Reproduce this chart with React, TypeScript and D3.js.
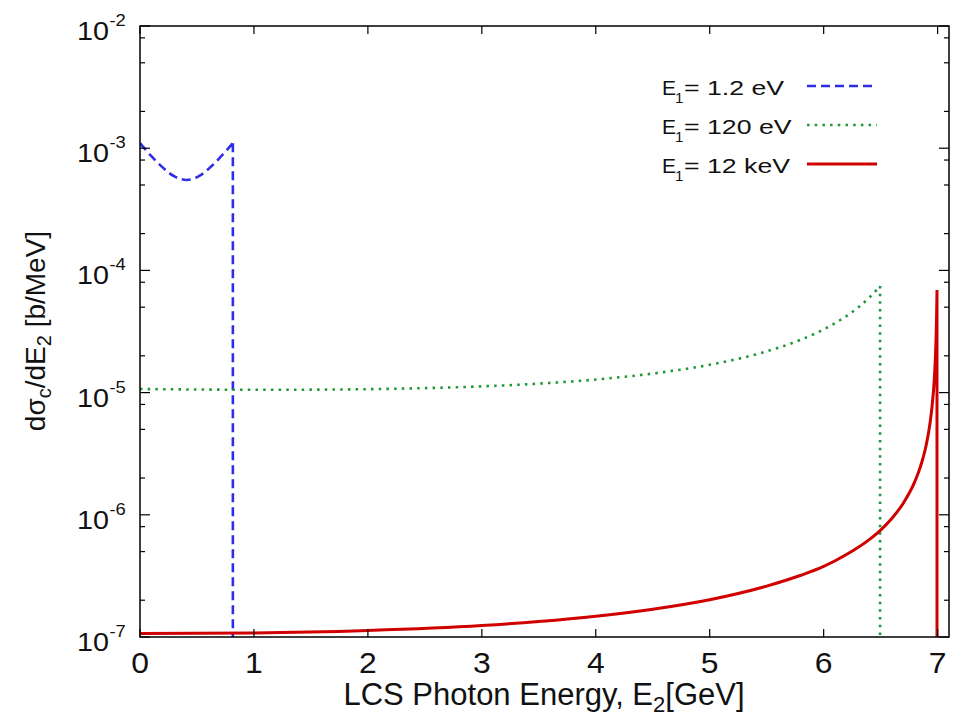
import React from "react";
import * as d3 from "d3";

// ---- data ----
const xTicks = [0, 1, 2, 3, 4, 5, 6, 7];
const yDecades = [-7, -6, -5, -4, -3, -2];
const minorMult = [2, 5, 8];

// E1 = 1.2 eV (dashed blue); last point = vertical drop at the cut-off
const blueX = [0, 0.05, 0.1, 0.153, 0.204, 0.255, 0.306, 0.357, 0.408, 0.459, 0.509, 0.56, 0.611, 0.662, 0.713, 0.764, 0.815, 0.815];
const blueY = [1.1e-3, 9.7e-4, 8.6e-4, 7.65e-4, 6.9e-4, 6.27e-4, 5.85e-4, 5.59e-4, 5.5e-4, 5.59e-4, 5.85e-4, 6.27e-4, 6.9e-4, 7.65e-4, 8.6e-4, 9.7e-4, 1.1e-3, 1e-8];

// E1 = 120 eV (dotted green)
const greenX = [0, 0.5, 1, 1.5, 2, 2.5, 3, 3.5, 4, 4.5, 5, 5.5, 5.8, 6.0, 6.1, 6.2, 6.3, 6.4, 6.45, 6.495, 6.495];
const greenY = [1.07e-5, 1.06e-5, 1.055e-5, 1.057e-5, 1.067e-5, 1.088e-5, 1.125e-5, 1.184e-5, 1.279e-5, 1.432e-5, 1.69e-5, 2.175e-5, 2.71e-5, 3.29e-5, 3.7e-5, 4.23e-5, 4.95e-5, 5.98e-5, 6.68e-5, 7.46e-5, 1e-8];

// E1 = 12 keV (solid red)
const redX = [0, 1, 2, 3, 3.5, 4, 4.5, 5, 5.5, 5.8, 6, 6.2, 6.4, 6.5, 6.6, 6.7, 6.8, 6.85, 6.9, 6.93, 6.95, 6.97, 6.98, 6.99, 6.993, 6.9946, 6.9946];
const redY = [1.07e-7, 1.08e-7, 1.13e-7, 1.24e-7, 1.34e-7, 1.48e-7, 1.69e-7, 2.02e-7, 2.61e-7, 3.2e-7, 3.78e-7, 4.73e-7, 6.27e-7, 7.5e-7, 9.37e-7, 1.25e-6, 1.87e-6, 2.49e-6, 3.73e-6, 5.34e-6, 7.5e-6, 1.245e-5, 1.87e-5, 3.74e-5, 5.35e-5, 6.9e-5, 1e-8];

const legendLabels = ["= 1.2 eV", "= 120 eV", "= 12 keV"];

const W = 965;
const H = 723;
const L = 140, R = 949, T = 26, B = 637;
const FONT = "'Liberation Sans', Arial, Helvetica, sans-serif";

export default function App() {
  const x = d3.scaleLinear().domain([0, 7.1]).range([L, R]);
  const y = d3.scaleLog().domain([1e-7, 1e-2]).range([B, T]);

  const line = d3
    .line<[number, number]>()
    .x((d) => x(d[0]))
    .y((d) => y(Math.max(d[1], 1e-8)))
    .curve(d3.curveMonotoneX);
  const straight = d3
    .line<[number, number]>()
    .x((d) => x(d[0]))
    .y((d) => y(Math.max(d[1], 1e-8)));

  const mk = (xs: number[], ys: number[]) => xs.map((v, i) => [v, ys[i]] as [number, number]);
  const pathFor = (xs: number[], ys: number[]) => {
    const pts = mk(xs, ys);
    const body = pts.slice(0, -1);
    const drop = pts.slice(-2);
    return (line(body) || "") + (straight(drop) || "");
  };

  const series = [
    { xs: blueX, ys: blueY, color: "#2e2ee6", width: 2.6, dash: "9,5" },
    { xs: greenX, ys: greenY, color: "#1f9838", width: 2.6, dash: "2.5,5.2" },
    { xs: redX, ys: redY, color: "#d10000", width: 3, dash: undefined },
  ];

  const minorTicks: number[] = [];
  yDecades.forEach((e) => {
    if (e < -2) minorMult.forEach((m) => minorTicks.push(m * Math.pow(10, e)));
  });

  const legendBase = [95, 134, 173];

  return (
    <svg width={W} height={H} style={{ display: "block", position: "absolute", left: 0, top: 0, background: "#fff" }}>
      <rect x={0} y={0} width={W} height={H} fill="#fff" />
      <defs>
        <clipPath id="plotclip">
          <rect x={L} y={T} width={R - L} height={B - T} />
        </clipPath>
      </defs>

      {/* curves */}
      <g clipPath="url(#plotclip)">
        {series.map((s, i) => (
          <path
            key={i}
            d={pathFor(s.xs, s.ys)}
            fill="none"
            stroke={s.color}
            strokeWidth={s.width}
            strokeDasharray={s.dash}
            strokeLinejoin="round"
          />
        ))}
      </g>

      {/* frame */}
      <rect x={L} y={T} width={R - L} height={B - T} fill="none" stroke="#000" strokeWidth={1.5} />

      {/* x ticks */}
      {xTicks.map((t) => (
        <g key={"xt" + t}>
          <line x1={x(t)} x2={x(t)} y1={B} y2={B - 8} stroke="#000" strokeWidth={1.2} />
          <line x1={x(t)} x2={x(t)} y1={T} y2={T + 8} stroke="#000" strokeWidth={1.2} />
          <text
            transform={`translate(${x(t)},673) scale(1.1,1)`}
            textAnchor="middle"
            fontFamily={FONT}
            fontSize={29}
            fill="#111"
          >
            {t}
          </text>
        </g>
      ))}

      {/* y major ticks and labels */}
      {yDecades.map((e) => {
        const v = Math.pow(10, e);
        const yy = y(v);
        return (
          <g key={"yt" + e}>
            <line x1={L} x2={L + 10} y1={yy} y2={yy} stroke="#000" strokeWidth={1.2} />
            <line x1={R} x2={R - 10} y1={yy} y2={yy} stroke="#000" strokeWidth={1.2} />
            <text
              transform={`translate(109,${yy + 14}) scale(1.15,1)`}
              textAnchor="end"
              fontFamily={FONT}
              fontSize={25}
              fill="#111"
            >
              10
            </text>
            <text
              transform={`translate(109.5,${yy}) scale(1.15,1)`}
              textAnchor="start"
              fontFamily={FONT}
              fontSize={16}
              fill="#111"
            >
              {String(e)}
            </text>
          </g>
        );
      })}
      {minorTicks.map((v, i) => (
        <g key={"mt" + i}>
          <line x1={L} x2={L + 5} y1={y(v)} y2={y(v)} stroke="#000" strokeWidth={1.2} />
          <line x1={R} x2={R - 5} y1={y(v)} y2={y(v)} stroke="#000" strokeWidth={1.2} />
        </g>
      ))}

      {/* x label */}
      <text x={544} y={705} textAnchor="middle" fontFamily={FONT} fontSize={31} fill="#111">
        LCS Photon Energy, E
        <tspan fontSize={22} dy={7}>2</tspan>
        <tspan dy={-7}>[GeV]</tspan>
      </text>

      {/* y label */}
      <text
        transform={`translate(45,331) rotate(-90)`}
        textAnchor="middle"
        fontFamily={FONT}
        fontSize={28}
        fill="#111"
      >
        dσ
        <tspan fontSize={20} dy={6}>c</tspan>
        <tspan dy={-6}>/dE</tspan>
        <tspan fontSize={20} dy={6}>2</tspan>
        <tspan dy={-6}> [b/MeV]</tspan>
      </text>

      {/* legend */}
      {series.map((s, i) => {
        const base = legendBase[i];
        return (
          <g key={"lg" + i}>
            <text x={662} y={base} fontFamily={FONT} fontSize={21} fill="#111">E</text>
            <text x={675} y={base + 8} fontFamily={FONT} fontSize={15} fill="#111">1</text>
            <text
              transform={`translate(684,${base}) scale(1.27,1)`}
              fontFamily={FONT}
              fontSize={21}
              fill="#111"
            >
              {legendLabels[i]}
            </text>
            <line
              x1={807}
              x2={877}
              y1={base - 9}
              y2={base - 9}
              stroke={s.color}
              strokeWidth={s.width}
              strokeDasharray={s.dash}
            />
          </g>
        );
      })}
    </svg>
  );
}
